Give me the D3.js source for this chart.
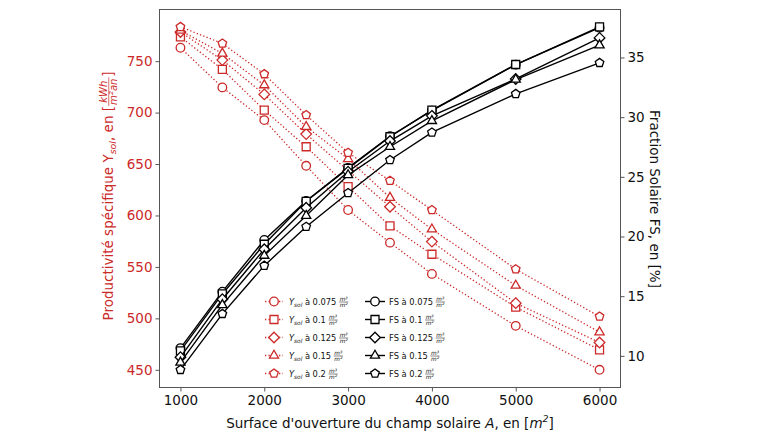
<!DOCTYPE html>
<html><head><meta charset="utf-8">
<script src="https://cdn.jsdelivr.net/npm/d3@7"></script>
<style>
html,body{margin:0;padding:0;background:#fff;}
svg{display:block;font-family:"DejaVu Sans",sans-serif;}
svg text{white-space:pre;}
</style></head>
<body>
<svg id="chart" width="760" height="440"></svg>
<script>
// ---------- DATA ----------
const surfaces = [1000,1500,2000,2500,3000,3500,4000,5000,6000];
const ratios = ["0.075","0.1","0.125","0.15","0.2"];
const markers = ["circle","square","diamond","triangle","pentagon"];
const ysol_0075 = [763.0,724.5,692.7,648.3,605.3,573.6,543.2,492.7,450.0];
const ysol_01   = [773.6,742.0,702.4,666.8,628.0,589.8,562.3,510.9,469.4];
const ysol_0125 = [778.4,751.0,717.7,679.1,643.5,608.5,574.6,514.8,476.5];
const ysol_015  = [779.8,757.5,726.7,686.2,655.0,617.3,586.6,531.9,486.6];
const ysol_02   = [783.3,767.2,737.4,697.6,661.0,633.8,605.3,547.8,501.8];
const fs_0075 = [10.65,15.38,19.71,22.97,25.75,28.40,30.55,34.40,37.50];
const fs_01   = [10.42,15.19,19.35,22.95,25.71,28.36,30.59,34.41,37.56];
const fs_0125 = [9.89,14.75,18.93,22.41,25.43,28.00,30.11,33.20,36.64];
const fs_015  = [9.45,14.27,18.40,21.74,25.15,27.52,29.69,33.15,36.03];
const fs_02   = [8.83,13.52,17.56,20.82,23.65,26.41,28.72,31.95,34.55];
const xTicks = [1000,2000,3000,4000,5000,6000];
const yLeftTicks = [450,500,550,600,650,700,750];
const yRightTicks = [10,15,20,25,30,35];

const ysolSeries = [ysol_0075, ysol_01, ysol_0125, ysol_015, ysol_02];
const fsSeries = [fs_0075, fs_01, fs_0125, fs_015, fs_02];

// ---------- LAYOUT ----------
const RED = "#cc2929";
const AX = "#555";
const NB = "\u00a0";
const L = 159.5, R = 620.5, T = 9.5, B = 387.5;
const svg = d3.select("#chart");

const x = d3.scaleLinear().domain([750,6250]).range([L,R]);
const yL = d3.scaleLinear().domain([432.8,800.2]).range([B,T]);
const yR = d3.scaleLinear().domain([7.35,39.02]).range([B,T]);

function markerPath(type){
  const p = d3.path();
  if(type==="circle"){ p.arc(0,0,4.3,0,2*Math.PI); }
  else if(type==="square"){ p.rect(-4,-4,8,8); }
  else if(type==="diamond"){ p.moveTo(0,-5.3);p.lineTo(5.3,0);p.lineTo(0,5.3);p.lineTo(-5.3,0);p.closePath(); }
  else if(type==="triangle"){ const r=5.3; p.moveTo(0,-r);p.lineTo(r*0.866,r*0.5);p.lineTo(-r*0.866,r*0.5);p.closePath(); }
  else if(type==="pentagon"){ const r=4.5; for(let i=0;i<5;i++){const a=-Math.PI/2+i*2*Math.PI/5; const px=r*Math.cos(a),py=r*Math.sin(a); if(i===0)p.moveTo(px,py); else p.lineTo(px,py);} p.closePath(); }
  return p.toString();
}

// ---------- AXES ----------
const gx = svg.append("g").attr("transform",`translate(0,${B})`)
  .call(d3.axisBottom(x).tickValues(xTicks).tickSize(4).tickPadding(4).tickFormat(d3.format("d")));
const gyl = svg.append("g").attr("transform",`translate(${L},0)`)
  .call(d3.axisLeft(yL).tickValues(yLeftTicks).tickSize(4).tickPadding(3).tickFormat(d3.format("d")));
const gyr = svg.append("g").attr("transform",`translate(${R},0)`)
  .call(d3.axisRight(yR).tickValues(yRightTicks).tickSize(4).tickPadding(3).tickFormat(d3.format("d")));
[gx,gyl,gyr].forEach(g=>{
  g.select(".domain").remove();
  g.selectAll("line").attr("stroke",AX);
  g.selectAll("text").attr("font-size",13.5).attr("font-family","DejaVu Sans");
});
gx.selectAll("text").attr("fill","#111");
gyl.selectAll("text").attr("fill",RED);
gyr.selectAll("text").attr("fill","#111");

// ---------- LINES ----------
const redG = svg.append("g");
ysolSeries.forEach((vals,i)=>{
  const pts = surfaces.map((s,j)=>[x(s),yL(vals[j])]);
  redG.append("path").attr("d",d3.line()(pts)).attr("fill","none")
    .attr("stroke",RED).attr("stroke-width",1.3).attr("stroke-dasharray","1.3,2.2");
  redG.selectAll(null).data(pts).enter().append("path")
    .attr("d",markerPath(markers[i])).attr("transform",d=>`translate(${d[0]},${d[1]})`)
    .attr("fill","#fff").attr("stroke",RED).attr("stroke-width",1.3);
});
const blkG = svg.append("g");
fsSeries.forEach((vals,i)=>{
  const pts = surfaces.map((s,j)=>[x(s),yR(vals[j])]);
  blkG.append("path").attr("d",d3.line()(pts)).attr("fill","none")
    .attr("stroke","#000").attr("stroke-width",1.4);
  blkG.selectAll(null).data(pts).enter().append("path")
    .attr("d",markerPath(markers[i])).attr("transform",d=>`translate(${d[0]},${d[1]})`)
    .attr("fill","#fff").attr("stroke","#000").attr("stroke-width",1.3);
});

svg.append("rect").attr("x",L).attr("y",T).attr("width",R-L).attr("height",B-T)
  .attr("fill","none").attr("stroke",AX).attr("stroke-width",1);

// ---------- RICH TEXT ----------
function rich(g, parts, size, color){
  let cx = 0;
  parts.forEach(p=>{
    if(p.frac){
      const fs = size*p.scale;
      const axis = -size*0.3;
      const num = g.append("text").attr("font-size",fs).attr("font-style","italic").attr("fill",color).text(p.num);
      const den = g.append("text").attr("font-size",fs).attr("font-style","italic").attr("fill",color).text(p.den);
      const wn = num.node().getComputedTextLength(), wd = den.node().getComputedTextLength();
      const w = Math.max(wn,wd)+size*0.15;
      num.attr("x",cx+(w-wn)/2).attr("y",axis-fs*0.2);
      den.attr("x",cx+(w-wd)/2).attr("y",axis+fs*0.85);
      g.append("line").attr("x1",cx).attr("x2",cx+w).attr("y1",axis).attr("y2",axis)
        .attr("stroke",color).attr("stroke-width",Math.max(0.5,size*0.05));
      cx += w + size*0.05;
    } else {
      const fs = size*(p.scale||1);
      const t = g.append("text").attr("x",cx).attr("y",p.dy?size*p.dy:0)
        .attr("font-size",fs).attr("fill",color).text(p.t.replace(/ /g,NB));
      if(p.it) t.attr("font-style","italic");
      cx += t.node().getComputedTextLength();
    }
  });
  return cx;
}
function placeRich(cx, cy, rot, parts, size, color, baseOff){
  const outer = svg.append("g").attr("transform",`translate(${cx},${cy}) rotate(${rot})`);
  const inner = outer.append("g");
  const w = rich(inner, parts, size, color);
  inner.attr("transform",`translate(${-w/2},${baseOff})`);
}

placeRich(390, 423, 0, [
  {t:"Surface d'ouverture du champ solaire "},{t:"A",it:true},{t:", en ["},
  {t:"m",it:true},{t:"2",it:true,scale:0.7,dy:-0.4},{t:"]"}
], 13.5, "#111", 4.8);

placeRich(108, 196, -90, [
  {t:"Productivité spécifique Y"},{t:"sol",it:true,scale:0.7,dy:0.25},
  {t:", en ["},{frac:true,num:"kWh",den:"m²an",scale:0.75},{t:"]"}
], 13.5, RED, 4.8);

placeRich(655, 199, 90, [{t:"Fraction Solaire FS, en [%]"}], 13.5, "#111", 4.8);

// ---------- LEGEND ----------
const leg = svg.append("g");
const rowY = [301.5,319.5,337.5,355.5,373.5];
ratios.forEach((r,i)=>{
  leg.append("line").attr("x1",265).attr("x2",283).attr("y1",rowY[i]).attr("y2",rowY[i])
    .attr("stroke",RED).attr("stroke-width",1.3).attr("stroke-dasharray","1.3,2.2");
  leg.append("path").attr("d",markerPath(markers[i])).attr("transform",`translate(274,${rowY[i]})`)
    .attr("fill","#fff").attr("stroke",RED).attr("stroke-width",1.3);
  const g1 = leg.append("g").attr("transform",`translate(289,${rowY[i]+3})`);
  rich(g1,[{t:"Y",it:true},{t:"sol",it:true,scale:0.7,dy:0.25},{t:" à "+r+" "},
    {frac:true,num:"m³",den:"m²",scale:0.7}], 8.3, "#111");
  leg.append("line").attr("x1",365).attr("x2",385).attr("y1",rowY[i]).attr("y2",rowY[i])
    .attr("stroke","#000").attr("stroke-width",1.4);
  leg.append("path").attr("d",markerPath(markers[i])).attr("transform",`translate(375,${rowY[i]})`)
    .attr("fill","#fff").attr("stroke","#000").attr("stroke-width",1.3);
  const g2 = leg.append("g").attr("transform",`translate(389,${rowY[i]+3})`);
  rich(g2,[{t:"FS à "+r+" "},{frac:true,num:"m³",den:"m²",scale:0.7}], 8.3, "#111");
});
</script>
</body></html>
